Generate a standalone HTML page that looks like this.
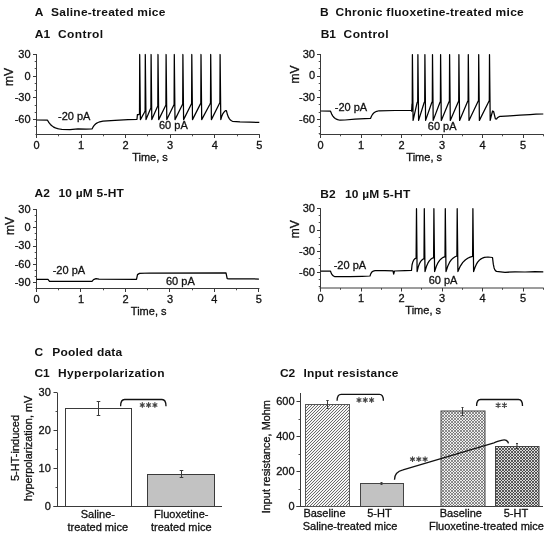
<!DOCTYPE html>
<html><head><meta charset="utf-8"><style>
html,body{margin:0;padding:0;background:#fff;width:550px;height:536px;overflow:hidden;}
svg{display:block;filter:blur(0.3px);}
text{font-family:"Liberation Sans", sans-serif;}
</style></head><body>
<svg width="550" height="536" viewBox="0 0 550 536">
<rect width="550" height="536" fill="#fff"/>
<line x1="36.50" y1="54.00" x2="36.50" y2="138.00" stroke="#3a3a3a" stroke-width="1"/>
<line x1="35.50" y1="134.50" x2="259.80" y2="134.50" stroke="#3a3a3a" stroke-width="1"/>
<line x1="33.00" y1="54.50" x2="36.50" y2="54.50" stroke="#3a3a3a" stroke-width="1"/>
<text x="30.60" y="57.80" font-size="11" text-anchor="end" font-weight="normal" fill="#111" stroke="#111" stroke-width="0.3" >30</text>
<line x1="33.00" y1="76.50" x2="36.50" y2="76.50" stroke="#3a3a3a" stroke-width="1"/>
<text x="30.60" y="79.50" font-size="11" text-anchor="end" font-weight="normal" fill="#111" stroke="#111" stroke-width="0.3" >0</text>
<line x1="33.00" y1="97.50" x2="36.50" y2="97.50" stroke="#3a3a3a" stroke-width="1"/>
<text x="30.60" y="101.20" font-size="11" text-anchor="end" font-weight="normal" fill="#111" stroke="#111" stroke-width="0.3" >-30</text>
<line x1="33.00" y1="119.50" x2="36.50" y2="119.50" stroke="#3a3a3a" stroke-width="1"/>
<text x="30.60" y="122.90" font-size="11" text-anchor="end" font-weight="normal" fill="#111" stroke="#111" stroke-width="0.3" >-60</text>
<line x1="34.70" y1="61.50" x2="36.50" y2="61.50" stroke="#3a3a3a" stroke-width="0.9"/>
<line x1="34.70" y1="68.50" x2="36.50" y2="68.50" stroke="#3a3a3a" stroke-width="0.9"/>
<line x1="34.70" y1="83.50" x2="36.50" y2="83.50" stroke="#3a3a3a" stroke-width="0.9"/>
<line x1="34.70" y1="90.50" x2="36.50" y2="90.50" stroke="#3a3a3a" stroke-width="0.9"/>
<line x1="34.70" y1="105.50" x2="36.50" y2="105.50" stroke="#3a3a3a" stroke-width="0.9"/>
<line x1="34.70" y1="112.50" x2="36.50" y2="112.50" stroke="#3a3a3a" stroke-width="0.9"/>
<line x1="34.70" y1="126.50" x2="36.50" y2="126.50" stroke="#3a3a3a" stroke-width="0.9"/>
<line x1="36.50" y1="134.50" x2="36.50" y2="138.00" stroke="#3a3a3a" stroke-width="1"/>
<text x="36.50" y="148.50" font-size="11" text-anchor="middle" font-weight="normal" fill="#111" stroke="#111" stroke-width="0.3" >0</text>
<line x1="58.50" y1="134.50" x2="58.50" y2="136.30" stroke="#3a3a3a" stroke-width="0.9"/>
<line x1="81.50" y1="134.50" x2="81.50" y2="138.00" stroke="#3a3a3a" stroke-width="1"/>
<text x="81.06" y="148.50" font-size="11" text-anchor="middle" font-weight="normal" fill="#111" stroke="#111" stroke-width="0.3" >1</text>
<line x1="103.50" y1="134.50" x2="103.50" y2="136.30" stroke="#3a3a3a" stroke-width="0.9"/>
<line x1="125.50" y1="134.50" x2="125.50" y2="138.00" stroke="#3a3a3a" stroke-width="1"/>
<text x="125.62" y="148.50" font-size="11" text-anchor="middle" font-weight="normal" fill="#111" stroke="#111" stroke-width="0.3" >2</text>
<line x1="147.50" y1="134.50" x2="147.50" y2="136.30" stroke="#3a3a3a" stroke-width="0.9"/>
<line x1="170.50" y1="134.50" x2="170.50" y2="138.00" stroke="#3a3a3a" stroke-width="1"/>
<text x="170.18" y="148.50" font-size="11" text-anchor="middle" font-weight="normal" fill="#111" stroke="#111" stroke-width="0.3" >3</text>
<line x1="192.50" y1="134.50" x2="192.50" y2="136.30" stroke="#3a3a3a" stroke-width="0.9"/>
<line x1="214.50" y1="134.50" x2="214.50" y2="138.00" stroke="#3a3a3a" stroke-width="1"/>
<text x="214.74" y="148.50" font-size="11" text-anchor="middle" font-weight="normal" fill="#111" stroke="#111" stroke-width="0.3" >4</text>
<line x1="237.50" y1="134.50" x2="237.50" y2="136.30" stroke="#3a3a3a" stroke-width="0.9"/>
<line x1="259.50" y1="134.50" x2="259.50" y2="138.00" stroke="#3a3a3a" stroke-width="1"/>
<text x="259.30" y="148.50" font-size="11" text-anchor="middle" font-weight="normal" fill="#111" stroke="#111" stroke-width="0.3" >5</text>
<text x="150.00" y="161.20" font-size="11" text-anchor="middle" font-weight="normal" fill="#111" stroke="#111" stroke-width="0.3" >Time, s</text>
<text transform="translate(13.40,77.10) rotate(-90)" font-size="12" text-anchor="middle" fill="#111" stroke="#111" stroke-width="0.3">mV</text>
<path d="M36.50,120.00 L47.50,120.20 L48.95,122.63 L50.40,124.45 L51.85,125.82 L53.30,126.85 L54.75,127.62 L56.20,128.20 L57.65,128.64 L59.10,128.97 L60.55,129.21 L62.00,129.40 L70.00,129.60 L78.00,128.80 L86.00,129.20 L92.00,129.00 L93.10,126.94 L94.20,125.40 L95.30,124.24 L96.40,123.36 L97.50,122.71 L98.60,122.22 L99.70,121.84 L100.80,121.57 L101.90,121.36 L103.00,121.20 L115.00,120.30 L128.00,119.60 L137.00,119.30 L137.40,114.60 L138.90,114.70 L139.50,113.50 L139.70,54.50 L140.40,119.60 L144.50,112.20 L145.10,111.00 L145.30,54.50 L146.00,119.60 L150.30,109.20 L150.90,108.00 L151.10,54.50 L151.80,119.60 L157.20,107.20 L157.80,106.00 L158.00,54.50 L158.70,119.60 L165.30,106.20 L165.90,105.00 L166.10,54.50 L166.80,119.60 L173.50,105.70 L174.10,104.50 L174.30,54.50 L175.00,119.60 L182.10,105.20 L182.70,104.00 L182.90,54.50 L183.60,119.60 L191.00,104.70 L191.60,103.50 L191.80,54.50 L192.50,119.60 L200.20,104.40 L200.80,103.20 L201.00,54.50 L201.70,119.60 L209.90,104.20 L210.50,103.00 L210.70,54.50 L211.40,119.60 L219.30,103.70 L219.90,102.50 L220.10,54.50 L220.80,119.60 L221.80,116.17 L222.80,113.87 L223.80,112.33 L224.80,111.29 L225.80,110.60 L226.40,110.60 L227.42,114.57 L228.43,117.19 L229.45,118.92 L230.47,120.06 L231.48,120.81 L232.50,121.30 L240.00,121.80 L250.00,122.20 L259.30,122.40" stroke="#000" stroke-width="1.25" fill="none" stroke-linejoin="round" />
<text x="58.00" y="120.00" font-size="11" text-anchor="start" font-weight="normal" fill="#111" stroke="#111" stroke-width="0.3" >-20 pA</text>
<text x="159.00" y="128.50" font-size="11" text-anchor="start" font-weight="normal" fill="#111" stroke="#111" stroke-width="0.3" >60 pA</text>
<line x1="36.50" y1="209.10" x2="36.50" y2="292.00" stroke="#3a3a3a" stroke-width="1"/>
<line x1="35.50" y1="288.50" x2="259.40" y2="288.50" stroke="#3a3a3a" stroke-width="1"/>
<line x1="33.00" y1="209.50" x2="36.50" y2="209.50" stroke="#3a3a3a" stroke-width="1"/>
<text x="30.60" y="212.88" font-size="11" text-anchor="end" font-weight="normal" fill="#111" stroke="#111" stroke-width="0.3" >30</text>
<line x1="33.00" y1="227.50" x2="36.50" y2="227.50" stroke="#3a3a3a" stroke-width="1"/>
<text x="30.60" y="231.10" font-size="11" text-anchor="end" font-weight="normal" fill="#111" stroke="#111" stroke-width="0.3" >0</text>
<line x1="33.00" y1="246.50" x2="36.50" y2="246.50" stroke="#3a3a3a" stroke-width="1"/>
<text x="30.60" y="249.33" font-size="11" text-anchor="end" font-weight="normal" fill="#111" stroke="#111" stroke-width="0.3" >-30</text>
<line x1="33.00" y1="264.50" x2="36.50" y2="264.50" stroke="#3a3a3a" stroke-width="1"/>
<text x="30.60" y="267.55" font-size="11" text-anchor="end" font-weight="normal" fill="#111" stroke="#111" stroke-width="0.3" >-60</text>
<line x1="33.00" y1="282.50" x2="36.50" y2="282.50" stroke="#3a3a3a" stroke-width="1"/>
<text x="30.60" y="285.78" font-size="11" text-anchor="end" font-weight="normal" fill="#111" stroke="#111" stroke-width="0.3" >-90</text>
<line x1="34.70" y1="215.50" x2="36.50" y2="215.50" stroke="#3a3a3a" stroke-width="0.9"/>
<line x1="34.70" y1="221.50" x2="36.50" y2="221.50" stroke="#3a3a3a" stroke-width="0.9"/>
<line x1="34.70" y1="233.50" x2="36.50" y2="233.50" stroke="#3a3a3a" stroke-width="0.9"/>
<line x1="34.70" y1="239.50" x2="36.50" y2="239.50" stroke="#3a3a3a" stroke-width="0.9"/>
<line x1="34.70" y1="252.50" x2="36.50" y2="252.50" stroke="#3a3a3a" stroke-width="0.9"/>
<line x1="34.70" y1="258.50" x2="36.50" y2="258.50" stroke="#3a3a3a" stroke-width="0.9"/>
<line x1="34.70" y1="270.50" x2="36.50" y2="270.50" stroke="#3a3a3a" stroke-width="0.9"/>
<line x1="34.70" y1="276.50" x2="36.50" y2="276.50" stroke="#3a3a3a" stroke-width="0.9"/>
<line x1="36.50" y1="288.50" x2="36.50" y2="292.00" stroke="#3a3a3a" stroke-width="1"/>
<text x="36.50" y="302.50" font-size="11" text-anchor="middle" font-weight="normal" fill="#111" stroke="#111" stroke-width="0.3" >0</text>
<line x1="58.50" y1="288.50" x2="58.50" y2="290.30" stroke="#3a3a3a" stroke-width="0.9"/>
<line x1="80.50" y1="288.50" x2="80.50" y2="292.00" stroke="#3a3a3a" stroke-width="1"/>
<text x="80.98" y="302.50" font-size="11" text-anchor="middle" font-weight="normal" fill="#111" stroke="#111" stroke-width="0.3" >1</text>
<line x1="103.50" y1="288.50" x2="103.50" y2="290.30" stroke="#3a3a3a" stroke-width="0.9"/>
<line x1="125.50" y1="288.50" x2="125.50" y2="292.00" stroke="#3a3a3a" stroke-width="1"/>
<text x="125.46" y="302.50" font-size="11" text-anchor="middle" font-weight="normal" fill="#111" stroke="#111" stroke-width="0.3" >2</text>
<line x1="147.50" y1="288.50" x2="147.50" y2="290.30" stroke="#3a3a3a" stroke-width="0.9"/>
<line x1="169.50" y1="288.50" x2="169.50" y2="292.00" stroke="#3a3a3a" stroke-width="1"/>
<text x="169.94" y="302.50" font-size="11" text-anchor="middle" font-weight="normal" fill="#111" stroke="#111" stroke-width="0.3" >3</text>
<line x1="192.50" y1="288.50" x2="192.50" y2="290.30" stroke="#3a3a3a" stroke-width="0.9"/>
<line x1="214.50" y1="288.50" x2="214.50" y2="292.00" stroke="#3a3a3a" stroke-width="1"/>
<text x="214.42" y="302.50" font-size="11" text-anchor="middle" font-weight="normal" fill="#111" stroke="#111" stroke-width="0.3" >4</text>
<line x1="236.50" y1="288.50" x2="236.50" y2="290.30" stroke="#3a3a3a" stroke-width="0.9"/>
<line x1="258.50" y1="288.50" x2="258.50" y2="292.00" stroke="#3a3a3a" stroke-width="1"/>
<text x="258.90" y="302.50" font-size="11" text-anchor="middle" font-weight="normal" fill="#111" stroke="#111" stroke-width="0.3" >5</text>
<text x="148.70" y="314.80" font-size="11" text-anchor="middle" font-weight="normal" fill="#111" stroke="#111" stroke-width="0.3" >Time, s</text>
<text transform="translate(13.60,226.10) rotate(-90)" font-size="12" text-anchor="middle" fill="#111" stroke="#111" stroke-width="0.3">mV</text>
<path d="M36.50,279.40 L48.00,279.40 L49.50,281.30 L92.00,281.30 L93.50,279.60 L96.00,278.70 L99.00,279.20 L136.50,279.30 L137.50,274.60 L139.50,273.40 L150.00,273.00 L226.00,272.80 L227.20,278.70 L229.00,278.90 L258.90,279.00" stroke="#000" stroke-width="1.25" fill="none" stroke-linejoin="round" />
<text x="52.70" y="273.80" font-size="11" text-anchor="start" font-weight="normal" fill="#111" stroke="#111" stroke-width="0.3" >-20 pA</text>
<text x="166.00" y="284.60" font-size="11" text-anchor="start" font-weight="normal" fill="#111" stroke="#111" stroke-width="0.3" >60 pA</text>
<line x1="320.50" y1="54.00" x2="320.50" y2="138.00" stroke="#3a3a3a" stroke-width="1"/>
<line x1="319.50" y1="134.50" x2="543.75" y2="134.50" stroke="#3a3a3a" stroke-width="1"/>
<line x1="317.00" y1="54.50" x2="320.50" y2="54.50" stroke="#3a3a3a" stroke-width="1"/>
<text x="315.00" y="57.80" font-size="11" text-anchor="end" font-weight="normal" fill="#111" stroke="#111" stroke-width="0.3" >30</text>
<line x1="317.00" y1="76.50" x2="320.50" y2="76.50" stroke="#3a3a3a" stroke-width="1"/>
<text x="315.00" y="79.40" font-size="11" text-anchor="end" font-weight="normal" fill="#111" stroke="#111" stroke-width="0.3" >0</text>
<line x1="317.00" y1="97.50" x2="320.50" y2="97.50" stroke="#3a3a3a" stroke-width="1"/>
<text x="315.00" y="101.00" font-size="11" text-anchor="end" font-weight="normal" fill="#111" stroke="#111" stroke-width="0.3" >-30</text>
<line x1="317.00" y1="119.50" x2="320.50" y2="119.50" stroke="#3a3a3a" stroke-width="1"/>
<text x="315.00" y="122.60" font-size="11" text-anchor="end" font-weight="normal" fill="#111" stroke="#111" stroke-width="0.3" >-60</text>
<line x1="318.70" y1="61.50" x2="320.50" y2="61.50" stroke="#3a3a3a" stroke-width="0.9"/>
<line x1="318.70" y1="68.50" x2="320.50" y2="68.50" stroke="#3a3a3a" stroke-width="0.9"/>
<line x1="318.70" y1="83.50" x2="320.50" y2="83.50" stroke="#3a3a3a" stroke-width="0.9"/>
<line x1="318.70" y1="90.50" x2="320.50" y2="90.50" stroke="#3a3a3a" stroke-width="0.9"/>
<line x1="318.70" y1="104.50" x2="320.50" y2="104.50" stroke="#3a3a3a" stroke-width="0.9"/>
<line x1="318.70" y1="112.50" x2="320.50" y2="112.50" stroke="#3a3a3a" stroke-width="0.9"/>
<line x1="318.70" y1="126.50" x2="320.50" y2="126.50" stroke="#3a3a3a" stroke-width="0.9"/>
<line x1="318.70" y1="133.50" x2="320.50" y2="133.50" stroke="#3a3a3a" stroke-width="0.9"/>
<line x1="320.50" y1="134.50" x2="320.50" y2="138.00" stroke="#3a3a3a" stroke-width="1"/>
<text x="320.50" y="148.50" font-size="11" text-anchor="middle" font-weight="normal" fill="#111" stroke="#111" stroke-width="0.3" >0</text>
<line x1="340.50" y1="134.50" x2="340.50" y2="136.30" stroke="#3a3a3a" stroke-width="0.9"/>
<line x1="361.50" y1="134.50" x2="361.50" y2="138.00" stroke="#3a3a3a" stroke-width="1"/>
<text x="361.00" y="148.50" font-size="11" text-anchor="middle" font-weight="normal" fill="#111" stroke="#111" stroke-width="0.3" >1</text>
<line x1="381.50" y1="134.50" x2="381.50" y2="136.30" stroke="#3a3a3a" stroke-width="0.9"/>
<line x1="401.50" y1="134.50" x2="401.50" y2="138.00" stroke="#3a3a3a" stroke-width="1"/>
<text x="401.50" y="148.50" font-size="11" text-anchor="middle" font-weight="normal" fill="#111" stroke="#111" stroke-width="0.3" >2</text>
<line x1="421.50" y1="134.50" x2="421.50" y2="136.30" stroke="#3a3a3a" stroke-width="0.9"/>
<line x1="442.50" y1="134.50" x2="442.50" y2="138.00" stroke="#3a3a3a" stroke-width="1"/>
<text x="442.00" y="148.50" font-size="11" text-anchor="middle" font-weight="normal" fill="#111" stroke="#111" stroke-width="0.3" >3</text>
<line x1="462.50" y1="134.50" x2="462.50" y2="136.30" stroke="#3a3a3a" stroke-width="0.9"/>
<line x1="482.50" y1="134.50" x2="482.50" y2="138.00" stroke="#3a3a3a" stroke-width="1"/>
<text x="482.50" y="148.50" font-size="11" text-anchor="middle" font-weight="normal" fill="#111" stroke="#111" stroke-width="0.3" >4</text>
<line x1="502.50" y1="134.50" x2="502.50" y2="136.30" stroke="#3a3a3a" stroke-width="0.9"/>
<line x1="523.50" y1="134.50" x2="523.50" y2="138.00" stroke="#3a3a3a" stroke-width="1"/>
<text x="523.00" y="148.50" font-size="11" text-anchor="middle" font-weight="normal" fill="#111" stroke="#111" stroke-width="0.3" >5</text>
<line x1="543.50" y1="134.50" x2="543.50" y2="136.30" stroke="#3a3a3a" stroke-width="0.9"/>
<text x="424.20" y="161.30" font-size="11" text-anchor="middle" font-weight="normal" fill="#111" stroke="#111" stroke-width="0.3" >Time, s</text>
<text transform="translate(298.60,74.60) rotate(-90)" font-size="12" text-anchor="middle" fill="#111" stroke="#111" stroke-width="0.3">mV</text>
<path d="M320.70,111.00 L330.50,111.20 L331.69,114.07 L332.88,116.07 L334.06,117.48 L335.25,118.46 L336.44,119.15 L337.62,119.63 L338.81,119.96 L340.00,120.20 L345.00,120.00 L355.00,119.20 L365.00,118.60 L370.50,118.40 L371.56,115.98 L372.62,114.28 L373.69,113.10 L374.75,112.27 L375.81,111.69 L376.88,111.28 L377.94,111.00 L379.00,110.80 L395.00,110.50 L411.80,110.30 L412.00,104.00 L411.60,111.20 L412.20,110.00 L412.40,54.60 L413.10,120.40 L417.10,102.70 L417.70,101.50 L417.90,54.60 L418.60,120.40 L424.10,102.70 L424.70,101.50 L424.90,54.60 L425.60,120.40 L431.70,102.70 L432.30,101.50 L432.50,54.60 L433.20,120.40 L439.80,102.70 L440.40,101.50 L440.60,54.60 L441.30,120.40 L448.80,102.20 L449.40,101.00 L449.60,54.60 L450.30,120.40 L458.10,102.20 L458.70,101.00 L458.90,54.60 L459.60,120.40 L467.50,101.70 L468.10,100.50 L468.30,54.60 L469.00,120.40 L477.90,101.70 L478.50,100.50 L478.70,54.60 L479.40,120.40 L488.70,101.70 L489.30,100.50 L489.50,54.60 L490.20,120.40 L491.20,116.00 L492.60,111.00 L493.60,111.50 L495.40,118.80 L496.50,119.00 L497.40,117.84 L498.30,117.14 L499.20,116.71 L500.10,116.46 L501.00,116.30 L510.00,115.80 L520.00,115.20 L530.00,114.60 L536.00,114.20 L543.30,114.00" stroke="#000" stroke-width="1.25" fill="none" stroke-linejoin="round" />
<text x="334.80" y="111.00" font-size="11" text-anchor="start" font-weight="normal" fill="#111" stroke="#111" stroke-width="0.3" >-20 pA</text>
<text x="427.80" y="129.60" font-size="11" text-anchor="start" font-weight="normal" fill="#111" stroke="#111" stroke-width="0.3" >60 pA</text>
<line x1="320.50" y1="208.20" x2="320.50" y2="291.50" stroke="#3a3a3a" stroke-width="1"/>
<line x1="319.50" y1="288.00" x2="543.75" y2="288.00" stroke="#3a3a3a" stroke-width="1"/>
<line x1="317.00" y1="208.50" x2="320.50" y2="208.50" stroke="#3a3a3a" stroke-width="1"/>
<text x="315.00" y="212.03" font-size="11" text-anchor="end" font-weight="normal" fill="#111" stroke="#111" stroke-width="0.3" >30</text>
<line x1="317.00" y1="230.50" x2="320.50" y2="230.50" stroke="#3a3a3a" stroke-width="1"/>
<text x="315.00" y="233.30" font-size="11" text-anchor="end" font-weight="normal" fill="#111" stroke="#111" stroke-width="0.3" >0</text>
<line x1="317.00" y1="251.50" x2="320.50" y2="251.50" stroke="#3a3a3a" stroke-width="1"/>
<text x="315.00" y="254.57" font-size="11" text-anchor="end" font-weight="normal" fill="#111" stroke="#111" stroke-width="0.3" >-30</text>
<line x1="317.00" y1="272.50" x2="320.50" y2="272.50" stroke="#3a3a3a" stroke-width="1"/>
<text x="315.00" y="275.84" font-size="11" text-anchor="end" font-weight="normal" fill="#111" stroke="#111" stroke-width="0.3" >-60</text>
<line x1="318.70" y1="215.50" x2="320.50" y2="215.50" stroke="#3a3a3a" stroke-width="0.9"/>
<line x1="318.70" y1="222.50" x2="320.50" y2="222.50" stroke="#3a3a3a" stroke-width="0.9"/>
<line x1="318.70" y1="237.50" x2="320.50" y2="237.50" stroke="#3a3a3a" stroke-width="0.9"/>
<line x1="318.70" y1="244.50" x2="320.50" y2="244.50" stroke="#3a3a3a" stroke-width="0.9"/>
<line x1="318.70" y1="258.50" x2="320.50" y2="258.50" stroke="#3a3a3a" stroke-width="0.9"/>
<line x1="318.70" y1="265.50" x2="320.50" y2="265.50" stroke="#3a3a3a" stroke-width="0.9"/>
<line x1="318.70" y1="279.50" x2="320.50" y2="279.50" stroke="#3a3a3a" stroke-width="0.9"/>
<line x1="318.70" y1="286.50" x2="320.50" y2="286.50" stroke="#3a3a3a" stroke-width="0.9"/>
<line x1="320.50" y1="288.00" x2="320.50" y2="291.50" stroke="#3a3a3a" stroke-width="1"/>
<text x="320.50" y="302.00" font-size="11" text-anchor="middle" font-weight="normal" fill="#111" stroke="#111" stroke-width="0.3" >0</text>
<line x1="340.50" y1="288.00" x2="340.50" y2="289.80" stroke="#3a3a3a" stroke-width="0.9"/>
<line x1="361.50" y1="288.00" x2="361.50" y2="291.50" stroke="#3a3a3a" stroke-width="1"/>
<text x="361.00" y="302.00" font-size="11" text-anchor="middle" font-weight="normal" fill="#111" stroke="#111" stroke-width="0.3" >1</text>
<line x1="381.50" y1="288.00" x2="381.50" y2="289.80" stroke="#3a3a3a" stroke-width="0.9"/>
<line x1="401.50" y1="288.00" x2="401.50" y2="291.50" stroke="#3a3a3a" stroke-width="1"/>
<text x="401.50" y="302.00" font-size="11" text-anchor="middle" font-weight="normal" fill="#111" stroke="#111" stroke-width="0.3" >2</text>
<line x1="421.50" y1="288.00" x2="421.50" y2="289.80" stroke="#3a3a3a" stroke-width="0.9"/>
<line x1="442.50" y1="288.00" x2="442.50" y2="291.50" stroke="#3a3a3a" stroke-width="1"/>
<text x="442.00" y="302.00" font-size="11" text-anchor="middle" font-weight="normal" fill="#111" stroke="#111" stroke-width="0.3" >3</text>
<line x1="462.50" y1="288.00" x2="462.50" y2="289.80" stroke="#3a3a3a" stroke-width="0.9"/>
<line x1="482.50" y1="288.00" x2="482.50" y2="291.50" stroke="#3a3a3a" stroke-width="1"/>
<text x="482.50" y="302.00" font-size="11" text-anchor="middle" font-weight="normal" fill="#111" stroke="#111" stroke-width="0.3" >4</text>
<line x1="502.50" y1="288.00" x2="502.50" y2="289.80" stroke="#3a3a3a" stroke-width="0.9"/>
<line x1="523.50" y1="288.00" x2="523.50" y2="291.50" stroke="#3a3a3a" stroke-width="1"/>
<text x="523.00" y="302.00" font-size="11" text-anchor="middle" font-weight="normal" fill="#111" stroke="#111" stroke-width="0.3" >5</text>
<line x1="543.50" y1="288.00" x2="543.50" y2="289.80" stroke="#3a3a3a" stroke-width="0.9"/>
<text x="423.20" y="314.30" font-size="11" text-anchor="middle" font-weight="normal" fill="#111" stroke="#111" stroke-width="0.3" >Time, s</text>
<text transform="translate(299.00,229.30) rotate(-90)" font-size="12" text-anchor="middle" fill="#111" stroke="#111" stroke-width="0.3">mV</text>
<path d="M320.70,271.10 L330.50,271.20 L331.42,273.63 L332.33,275.03 L333.25,275.83 L334.17,276.29 L335.08,276.55 L336.00,276.70 L350.00,276.60 L362.00,276.30 L370.00,276.00 L370.83,273.66 L371.67,272.31 L372.50,271.54 L373.33,271.10 L374.17,270.85 L375.00,270.70 L385.00,270.60 L393.00,270.80 L393.70,274.00 L394.50,271.00 L405.00,270.60 L411.50,270.40 L412.02,265.01 L412.83,261.91 L413.65,260.14 L414.47,259.12 L415.28,258.54 L416.10,258.20 L416.50,208.70 L417.10,271.60 L418.25,266.91 L419.40,263.75 L420.55,261.63 L421.70,260.20 L422.85,259.25 L424.00,258.60 L424.30,208.70 L425.00,271.60 L426.43,266.55 L427.87,263.15 L429.30,260.86 L430.73,259.33 L432.17,258.29 L433.60,257.60 L433.90,208.70 L434.60,271.60 L436.33,266.19 L438.07,262.55 L439.80,260.10 L441.53,258.45 L443.27,257.34 L445.00,256.60 L445.30,208.70 L446.00,271.60 L447.82,265.97 L449.63,262.18 L451.45,259.64 L453.27,257.93 L455.08,256.77 L456.90,256.00 L457.20,208.70 L457.90,271.60 L460.35,266.11 L462.80,262.42 L465.25,259.94 L467.70,258.28 L470.15,257.15 L472.60,256.40 L472.90,208.70 L473.60,271.60 L474.95,267.45 L476.30,264.41 L477.65,262.19 L479.00,260.56 L480.35,259.37 L481.70,258.50 L483.05,257.87 L484.40,257.40 L488.00,257.00 L492.50,257.50 L493.30,264.17 L494.10,267.95 L494.90,269.89 L495.70,270.89 L496.50,271.40 L505.00,272.30 L515.00,271.80 L525.00,272.00 L535.00,271.60 L543.30,271.80" stroke="#000" stroke-width="1.25" fill="none" stroke-linejoin="round" />
<text x="333.70" y="269.00" font-size="11" text-anchor="start" font-weight="normal" fill="#111" stroke="#111" stroke-width="0.3" >-20 pA</text>
<text x="428.70" y="283.60" font-size="11" text-anchor="start" font-weight="normal" fill="#111" stroke="#111" stroke-width="0.3" >60 pA</text>
<g transform="translate(0,16.20) scale(1,0.93)">
<text x="34.80" y="0.00" font-size="12" text-anchor="start" font-weight="bold" fill="#111" >A</text>
<text x="51.00" y="0.00" font-size="12" text-anchor="start" font-weight="bold" fill="#111" letter-spacing="0.25">Saline-treated mice</text>
</g>
<g transform="translate(0,38.20) scale(1,0.93)">
<text x="34.80" y="0.00" font-size="12" text-anchor="start" font-weight="bold" fill="#111" >A1</text>
<text x="58.00" y="0.00" font-size="12" text-anchor="start" font-weight="bold" fill="#111" letter-spacing="0.4">Control</text>
</g>
<g transform="translate(0,16.20) scale(1,0.93)">
<text x="320.00" y="0.00" font-size="12" text-anchor="start" font-weight="bold" fill="#111" >B</text>
<text x="335.50" y="0.00" font-size="12" text-anchor="start" font-weight="bold" fill="#111" letter-spacing="0.28">Chronic fluoxetine-treated mice</text>
</g>
<g transform="translate(0,38.20) scale(1,0.93)">
<text x="320.70" y="0.00" font-size="12" text-anchor="start" font-weight="bold" fill="#111" >B1</text>
<text x="343.60" y="0.00" font-size="12" text-anchor="start" font-weight="bold" fill="#111" letter-spacing="0.4">Control</text>
</g>
<g transform="translate(0,197.00) scale(1,0.93)">
<text x="34.60" y="0.00" font-size="12" text-anchor="start" font-weight="bold" fill="#111" >A2</text>
<text x="58.50" y="0.00" font-size="12" text-anchor="start" font-weight="bold" fill="#111" letter-spacing="0.2">10 µM 5-HT</text>
</g>
<g transform="translate(0,198.00) scale(1,0.93)">
<text x="320.30" y="0.00" font-size="12" text-anchor="start" font-weight="bold" fill="#111" >B2</text>
<text x="344.90" y="0.00" font-size="12" text-anchor="start" font-weight="bold" fill="#111" letter-spacing="0.2">10 µM 5-HT</text>
</g>
<g transform="translate(0,355.50) scale(1,0.93)">
<text x="34.40" y="0.00" font-size="12" text-anchor="start" font-weight="bold" fill="#111" >C</text>
<text x="52.20" y="0.00" font-size="12" text-anchor="start" font-weight="bold" fill="#111" letter-spacing="0.2">Pooled data</text>
</g>
<g transform="translate(0,377.30) scale(1,0.93)">
<text x="34.40" y="0.00" font-size="12" text-anchor="start" font-weight="bold" fill="#111" >C1</text>
<text x="58.00" y="0.00" font-size="12" text-anchor="start" font-weight="bold" fill="#111" letter-spacing="0.33">Hyperpolarization</text>
</g>
<g transform="translate(0,377.00) scale(1,0.93)">
<text x="279.90" y="0.00" font-size="12" text-anchor="start" font-weight="bold" fill="#111" >C2</text>
<text x="303.50" y="0.00" font-size="12" text-anchor="start" font-weight="bold" fill="#111" letter-spacing="0.2">Input resistance</text>
</g>
<line x1="57.50" y1="393.00" x2="57.50" y2="506.50" stroke="#3a3a3a" stroke-width="1"/>
<line x1="53.50" y1="506.50" x2="222.00" y2="506.50" stroke="#3a3a3a" stroke-width="1"/>
<line x1="53.50" y1="506.50" x2="57.50" y2="506.50" stroke="#3a3a3a" stroke-width="1"/>
<text x="50.80" y="510.10" font-size="11" text-anchor="end" font-weight="normal" fill="#111" stroke="#111" stroke-width="0.3" >0</text>
<line x1="53.50" y1="468.50" x2="57.50" y2="468.50" stroke="#3a3a3a" stroke-width="1"/>
<text x="50.80" y="472.20" font-size="11" text-anchor="end" font-weight="normal" fill="#111" stroke="#111" stroke-width="0.3" >10</text>
<line x1="53.50" y1="430.50" x2="57.50" y2="430.50" stroke="#3a3a3a" stroke-width="1"/>
<text x="50.80" y="434.30" font-size="11" text-anchor="end" font-weight="normal" fill="#111" stroke="#111" stroke-width="0.3" >20</text>
<line x1="53.50" y1="392.50" x2="57.50" y2="392.50" stroke="#3a3a3a" stroke-width="1"/>
<text x="50.80" y="396.40" font-size="11" text-anchor="end" font-weight="normal" fill="#111" stroke="#111" stroke-width="0.3" >30</text>
<line x1="55.50" y1="487.50" x2="57.50" y2="487.50" stroke="#3a3a3a" stroke-width="0.9"/>
<line x1="55.50" y1="449.50" x2="57.50" y2="449.50" stroke="#3a3a3a" stroke-width="0.9"/>
<line x1="55.50" y1="411.50" x2="57.50" y2="411.50" stroke="#3a3a3a" stroke-width="0.9"/>
<rect x="65.5" y="408.5" width="66" height="98" fill="#fff" stroke="#3a3a3a" stroke-width="1"/>
<rect x="147.5" y="474.5" width="67" height="32" fill="#c2c2c2" stroke="#3a3a3a" stroke-width="1"/>
<line x1="98.50" y1="401.50" x2="98.50" y2="415.50" stroke="#3a3a3a" stroke-width="1"/>
<line x1="96.70" y1="401.50" x2="100.30" y2="401.50" stroke="#3a3a3a" stroke-width="1"/>
<line x1="96.70" y1="415.50" x2="100.30" y2="415.50" stroke="#3a3a3a" stroke-width="1"/>
<line x1="181.50" y1="470.50" x2="181.50" y2="477.50" stroke="#3a3a3a" stroke-width="1"/>
<line x1="179.70" y1="470.50" x2="183.30" y2="470.50" stroke="#3a3a3a" stroke-width="1"/>
<line x1="179.70" y1="477.50" x2="183.30" y2="477.50" stroke="#3a3a3a" stroke-width="1"/>
<path d="M120.60,406.20 C120.60,401.70 122.00,399.50 124.60,399.50 L162.00,399.50 C164.60,399.50 166.00,401.70 166.00,406.20" stroke="#111" stroke-width="1.3" fill="none" stroke-linejoin="round" />
<path d="M142.30,402.65 L142.30,407.35 M140.26,403.82 L144.34,406.18 M144.34,403.82 L140.26,406.18 " stroke="#444" stroke-width="1.15" stroke-linecap="round"/>
<path d="M148.60,402.65 L148.60,407.35 M146.56,403.82 L150.64,406.18 M150.64,403.82 L146.56,406.18 " stroke="#444" stroke-width="1.15" stroke-linecap="round"/>
<path d="M154.90,402.65 L154.90,407.35 M152.86,403.82 L156.94,406.18 M156.94,403.82 L152.86,406.18 " stroke="#444" stroke-width="1.15" stroke-linecap="round"/>
<text x="97.80" y="517.70" font-size="11" text-anchor="middle" font-weight="normal" fill="#111" stroke="#111" stroke-width="0.3" >Saline-</text>
<text x="97.80" y="530.50" font-size="11" text-anchor="middle" font-weight="normal" fill="#111" stroke="#111" stroke-width="0.3" >treated mice</text>
<text x="181.30" y="517.60" font-size="11" text-anchor="middle" font-weight="normal" fill="#111" stroke="#111" stroke-width="0.3" >Fluoxetine-</text>
<text x="181.30" y="530.70" font-size="11" text-anchor="middle" font-weight="normal" fill="#111" stroke="#111" stroke-width="0.3" >treated mice</text>
<text transform="translate(18.90,448.00) rotate(-90)" font-size="11.0" text-anchor="middle" fill="#111" stroke="#111" stroke-width="0.3">5-HT-induced</text>
<text transform="translate(32.10,448.40) rotate(-90)" font-size="10.9" text-anchor="middle" fill="#111" stroke="#111" stroke-width="0.3">hyperpolarization, mV</text>
<line x1="300.50" y1="393.00" x2="300.50" y2="506.50" stroke="#3a3a3a" stroke-width="1"/>
<line x1="296.50" y1="506.50" x2="543.00" y2="506.50" stroke="#3a3a3a" stroke-width="1"/>
<line x1="296.50" y1="506.50" x2="300.50" y2="506.50" stroke="#3a3a3a" stroke-width="1"/>
<text x="294.60" y="510.10" font-size="11" text-anchor="end" font-weight="normal" fill="#111" stroke="#111" stroke-width="0.3" >0</text>
<line x1="296.50" y1="471.50" x2="300.50" y2="471.50" stroke="#3a3a3a" stroke-width="1"/>
<text x="294.60" y="475.15" font-size="11" text-anchor="end" font-weight="normal" fill="#111" stroke="#111" stroke-width="0.3" >200</text>
<line x1="296.50" y1="436.50" x2="300.50" y2="436.50" stroke="#3a3a3a" stroke-width="1"/>
<text x="294.60" y="440.20" font-size="11" text-anchor="end" font-weight="normal" fill="#111" stroke="#111" stroke-width="0.3" >400</text>
<line x1="296.50" y1="401.50" x2="300.50" y2="401.50" stroke="#3a3a3a" stroke-width="1"/>
<text x="294.60" y="405.25" font-size="11" text-anchor="end" font-weight="normal" fill="#111" stroke="#111" stroke-width="0.3" >600</text>
<line x1="298.50" y1="489.50" x2="300.50" y2="489.50" stroke="#3a3a3a" stroke-width="0.9"/>
<line x1="298.50" y1="454.50" x2="300.50" y2="454.50" stroke="#3a3a3a" stroke-width="0.9"/>
<line x1="298.50" y1="419.50" x2="300.50" y2="419.50" stroke="#3a3a3a" stroke-width="0.9"/>
<defs>
<pattern id="diag" patternUnits="userSpaceOnUse" width="3" height="3" x="0" y="0">
<rect width="3" height="3" fill="#f6f6f6"/>
<rect x="2" y="0" width="1" height="1" fill="#6a6a6a"/>
<rect x="1" y="1" width="1" height="1" fill="#6a6a6a"/>
<rect x="0" y="2" width="1" height="1" fill="#6a6a6a"/>
</pattern>
<pattern id="xh1" patternUnits="userSpaceOnUse" width="3" height="3" x="0" y="0">
<rect width="3" height="3" fill="#f0f0f0"/>
<rect x="0" y="0" width="1" height="1" fill="#6a6a6a"/>
<rect x="1" y="1" width="1" height="1" fill="#8c8c8c"/>
<rect x="2" y="1" width="1" height="1" fill="#8c8c8c"/>
<rect x="1" y="2" width="1" height="1" fill="#8c8c8c"/>
<rect x="2" y="2" width="1" height="1" fill="#8c8c8c"/>
</pattern>
<pattern id="xh2" patternUnits="userSpaceOnUse" width="3" height="3" x="0" y="0">
<rect width="3" height="3" fill="#dcdcdc"/>
<rect x="0" y="0" width="1" height="1" fill="#3a3a3a"/>
<rect x="1" y="1" width="1" height="1" fill="#5a5a5a"/>
<rect x="2" y="1" width="1" height="1" fill="#5a5a5a"/>
<rect x="1" y="2" width="1" height="1" fill="#5a5a5a"/>
<rect x="2" y="2" width="1" height="1" fill="#5a5a5a"/>
</pattern>
</defs>
<rect x="305.50" y="404.50" width="44.00" height="102.00" fill="url(#diag)" stroke="#555" stroke-width="1"/>
<rect x="360.50" y="483.50" width="43.00" height="23.00" fill="#c2c2c2" stroke="#444" stroke-width="1"/>
<rect x="441.00" y="411.00" width="44.00" height="95.50" fill="url(#xh1)" stroke="#444" stroke-width="1"/>
<rect x="495.50" y="446.50" width="43.50" height="60.00" fill="url(#xh2)" stroke="#444" stroke-width="1"/>
<line x1="327.50" y1="400.50" x2="327.50" y2="408.50" stroke="#3a3a3a" stroke-width="1"/>
<line x1="326.30" y1="400.50" x2="328.70" y2="400.50" stroke="#3a3a3a" stroke-width="1"/>
<line x1="326.30" y1="408.50" x2="328.70" y2="408.50" stroke="#3a3a3a" stroke-width="1"/>
<line x1="381.50" y1="482.50" x2="381.50" y2="484.50" stroke="#3a3a3a" stroke-width="1"/>
<line x1="380.50" y1="482.50" x2="382.50" y2="482.50" stroke="#3a3a3a" stroke-width="1"/>
<line x1="380.50" y1="484.50" x2="382.50" y2="484.50" stroke="#3a3a3a" stroke-width="1"/>
<line x1="462.50" y1="407.50" x2="462.50" y2="415.50" stroke="#3a3a3a" stroke-width="1"/>
<line x1="461.50" y1="407.50" x2="463.50" y2="407.50" stroke="#3a3a3a" stroke-width="1"/>
<line x1="461.50" y1="415.50" x2="463.50" y2="415.50" stroke="#3a3a3a" stroke-width="1"/>
<line x1="517.00" y1="443.50" x2="517.00" y2="448.50" stroke="#3a3a3a" stroke-width="1"/>
<line x1="516.00" y1="443.50" x2="518.00" y2="443.50" stroke="#3a3a3a" stroke-width="1"/>
<line x1="516.00" y1="448.50" x2="518.00" y2="448.50" stroke="#3a3a3a" stroke-width="1"/>
<path d="M337.10,400.80 C337.10,396.60 338.50,394.40 341.10,394.40 L379.40,394.40 C382.00,394.40 383.40,396.60 383.40,400.80" stroke="#111" stroke-width="1.3" fill="none" stroke-linejoin="round" />
<path d="M359.00,397.65 L359.00,402.35 M356.96,398.82 L361.04,401.18 M361.04,398.82 L356.96,401.18 " stroke="#444" stroke-width="1.15" stroke-linecap="round"/>
<path d="M365.30,397.65 L365.30,402.35 M363.26,398.82 L367.34,401.18 M367.34,398.82 L363.26,401.18 " stroke="#444" stroke-width="1.15" stroke-linecap="round"/>
<path d="M371.60,397.65 L371.60,402.35 M369.56,398.82 L373.64,401.18 M373.64,398.82 L369.56,401.18 " stroke="#444" stroke-width="1.15" stroke-linecap="round"/>
<path d="M476.60,405.90 C476.60,401.70 478.00,399.50 480.60,399.50 L518.50,399.50 C521.10,399.50 522.50,401.70 522.50,405.90" stroke="#111" stroke-width="1.3" fill="none" stroke-linejoin="round" />
<path d="M498.15,402.85 L498.15,407.55 M496.11,404.02 L500.19,406.38 M500.19,404.02 L496.11,406.38 " stroke="#444" stroke-width="1.15" stroke-linecap="round"/>
<path d="M504.45,402.85 L504.45,407.55 M502.41,404.02 L506.49,406.38 M506.49,404.02 L502.41,406.38 " stroke="#444" stroke-width="1.15" stroke-linecap="round"/>
<path d="M394.5,479.7 C394.5,475 397.5,471.2 403,469.9 L494,442.8 C499.5,441.0 503.5,438.6 506.3,440.4 C507.6,441.2 508.3,442.3 508.5,443.4" stroke="#111" stroke-width="1.3" fill="none" stroke-linejoin="round" />
<path d="M412.50,456.75 L412.50,461.45 M410.46,457.93 L414.54,460.28 M414.54,457.93 L410.46,460.28 " stroke="#444" stroke-width="1.15" stroke-linecap="round"/>
<path d="M418.80,456.75 L418.80,461.45 M416.76,457.93 L420.84,460.28 M420.84,457.93 L416.76,460.28 " stroke="#444" stroke-width="1.15" stroke-linecap="round"/>
<path d="M425.10,456.75 L425.10,461.45 M423.06,457.93 L427.14,460.28 M427.14,457.93 L423.06,460.28 " stroke="#444" stroke-width="1.15" stroke-linecap="round"/>
<text x="324.50" y="516.60" font-size="11" text-anchor="middle" font-weight="normal" fill="#111" stroke="#111" stroke-width="0.3" >Baseline</text>
<text x="379.40" y="516.60" font-size="11" text-anchor="middle" font-weight="normal" fill="#111" stroke="#111" stroke-width="0.3" >5-HT</text>
<text x="350.10" y="529.60" font-size="11" text-anchor="middle" font-weight="normal" fill="#111" stroke="#111" stroke-width="0.3" >Saline-treated mice</text>
<text x="460.80" y="516.60" font-size="11" text-anchor="middle" font-weight="normal" fill="#111" stroke="#111" stroke-width="0.3" >Baseline</text>
<text x="515.90" y="516.60" font-size="11" text-anchor="middle" font-weight="normal" fill="#111" stroke="#111" stroke-width="0.3" >5-HT</text>
<text x="486.40" y="530.20" font-size="11" text-anchor="middle" font-weight="normal" fill="#111" stroke="#111" stroke-width="0.3" >Fluoxetine-treated mice</text>
<text transform="translate(269.50,456.70) rotate(-90)" font-size="10.9" text-anchor="middle" fill="#111" stroke="#111" stroke-width="0.3">Input resistance, Mohm</text>
</svg>
</body></html>
